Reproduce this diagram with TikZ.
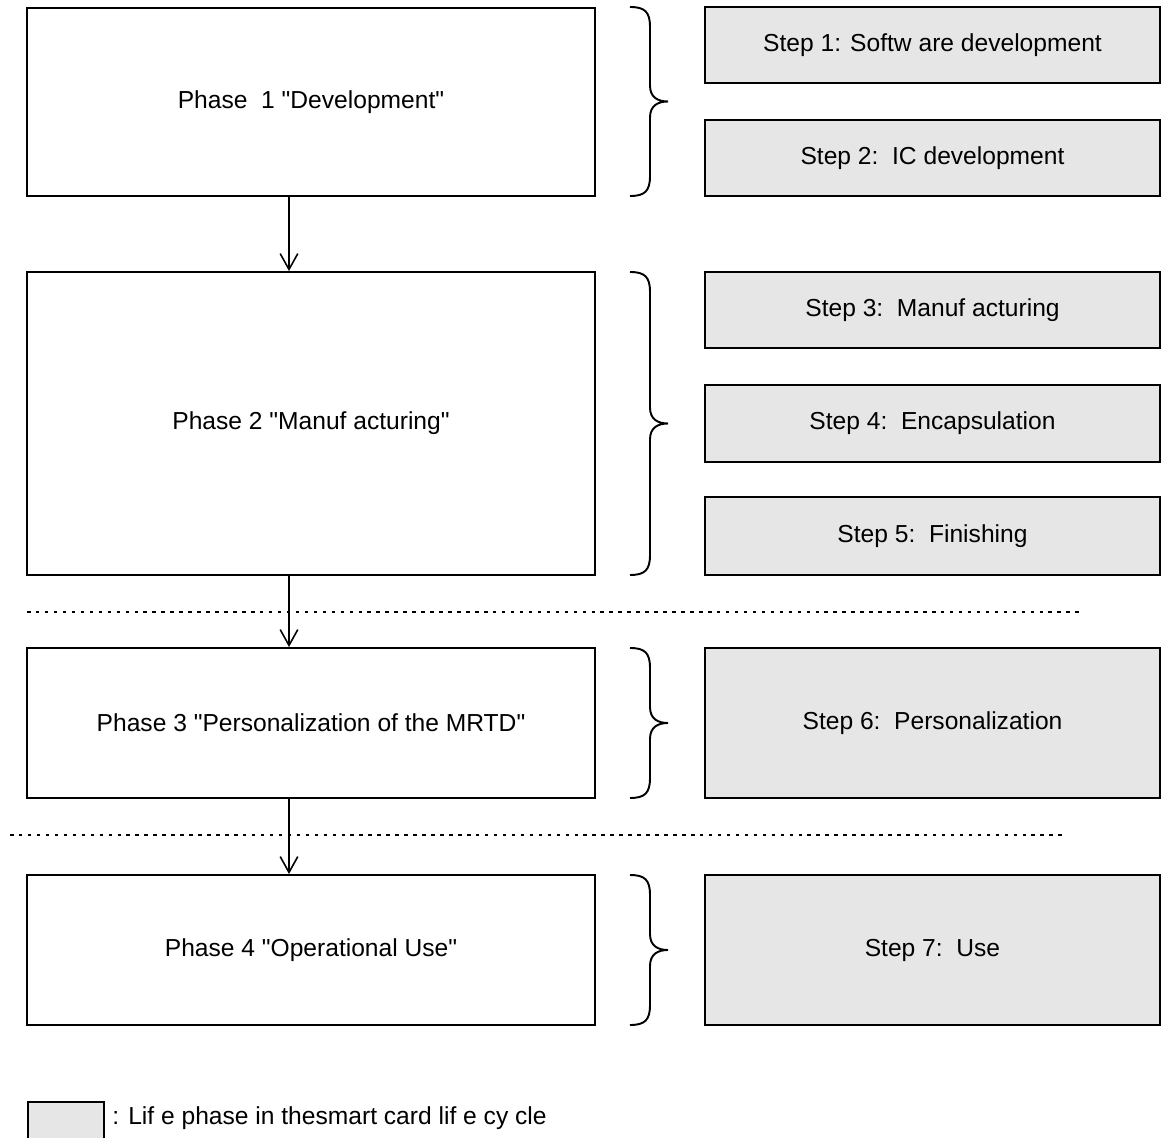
\documentclass[tikz,border=0pt]{standalone}
\usepackage{fontspec}
\setmainfont{Liberation Sans}[Ligatures=TeXOff]
\usepackage{tikz}
\usetikzlibrary{arrows.meta}
\definecolor{lifegray}{RGB}{230,230,230}

\begin{document}
\begin{tikzpicture}[x=0.02cm, y=-0.02cm,
    phase/.style={draw, line width=1.1pt, minimum width=11.36cm, font=\fontsize{14}{17}\selectfont},
    stepbox/.style={draw, fill=lifegray, line width=1.1pt, minimum width=9.1cm, font=\fontsize{14}{17}\selectfont},
    flow/.style={-{Straight Barb[length=9pt, width=10pt]}, line width=0.9pt},
    sep/.style={line width=1.1pt, dash pattern=on 2pt off 3.1pt}]
\useasboundingbox (0,0) rectangle (1164,1138);
% phases
\node[phase, minimum height=3.76cm] (p1) at (311,102) {Phase\ \ 1 "Development"};
\node[phase, minimum height=6.06cm] (p2) at (311,423.5) {Phase 2 "Manuf acturing"};
\node[phase, minimum height=3cm] (p3) at (311,723) {Phase 3 "Personalization of the MRTD"};
\node[phase, minimum height=3cm] (p4) at (311,950) {Phase 4 "Operational Use"};
% steps
\node[stepbox, minimum height=1.52cm] (s1) at (932.5,45) {Step 1: Softw are development};
\node[stepbox, minimum height=1.52cm] (s2) at (932.5,158) {Step 2:\ \ IC development};
\node[stepbox, minimum height=1.52cm] (s3) at (932.5,310) {Step 3:\ \ Manuf acturing};
\node[stepbox, minimum height=1.54cm] (s4) at (932.5,423.5) {Step 4:\ \ Encapsulation};
\node[stepbox, minimum height=1.56cm] (s5) at (932.5,536) {Step 5:\ \ Finishing};
\node[stepbox, minimum height=3cm] (s6) at (932.5,723) {Step 6:\ \ Personalization};
\node[stepbox, minimum height=3cm] (s7) at (932.5,950) {Step 7:\ \ Use};
% braces
\foreach \t/\b in {7/196, 272/575, 648/798, 875/1025} {
    \pgfmathsetmacro{\m}{(\t+\b)/2}
    \draw[line width=1.1pt] (630,\t) .. controls (645,\t) and (650,{\t+5}) .. (650,{\t+20})
        -- (650,{\m-16}) .. controls (650,{\m-4}) and (658,\m) .. (668,\m)
        .. controls (658,\m) and (650,{\m+4}) .. (650,{\m+16})
        -- (650,{\b-20}) .. controls (650,{\b-5}) and (645,\b) .. (630,\b);
}
% flow
\coordinate (axis) at (289,0);
\draw[flow] (axis |- p1.south) -- (axis |- p2.north);
\draw[flow] (axis |- p2.south) -- (axis |- p3.north);
\draw[flow] (axis |- p3.south) -- (axis |- p4.north);
% separators
\draw[sep] (27,612) -- (1080,612);
\draw[sep] (10,835) -- (1063,835);
% legend
\node[stepbox, minimum width=1.52cm, minimum height=1cm, anchor=north west] (key) at (27,1101) {};
\node[anchor=west, inner sep=0, font=\fontsize{14}{17}\selectfont] (keytext) at (112,1118) {: Lif e phase in thesmart card lif e cy cle};
\end{tikzpicture}
\end{document}
